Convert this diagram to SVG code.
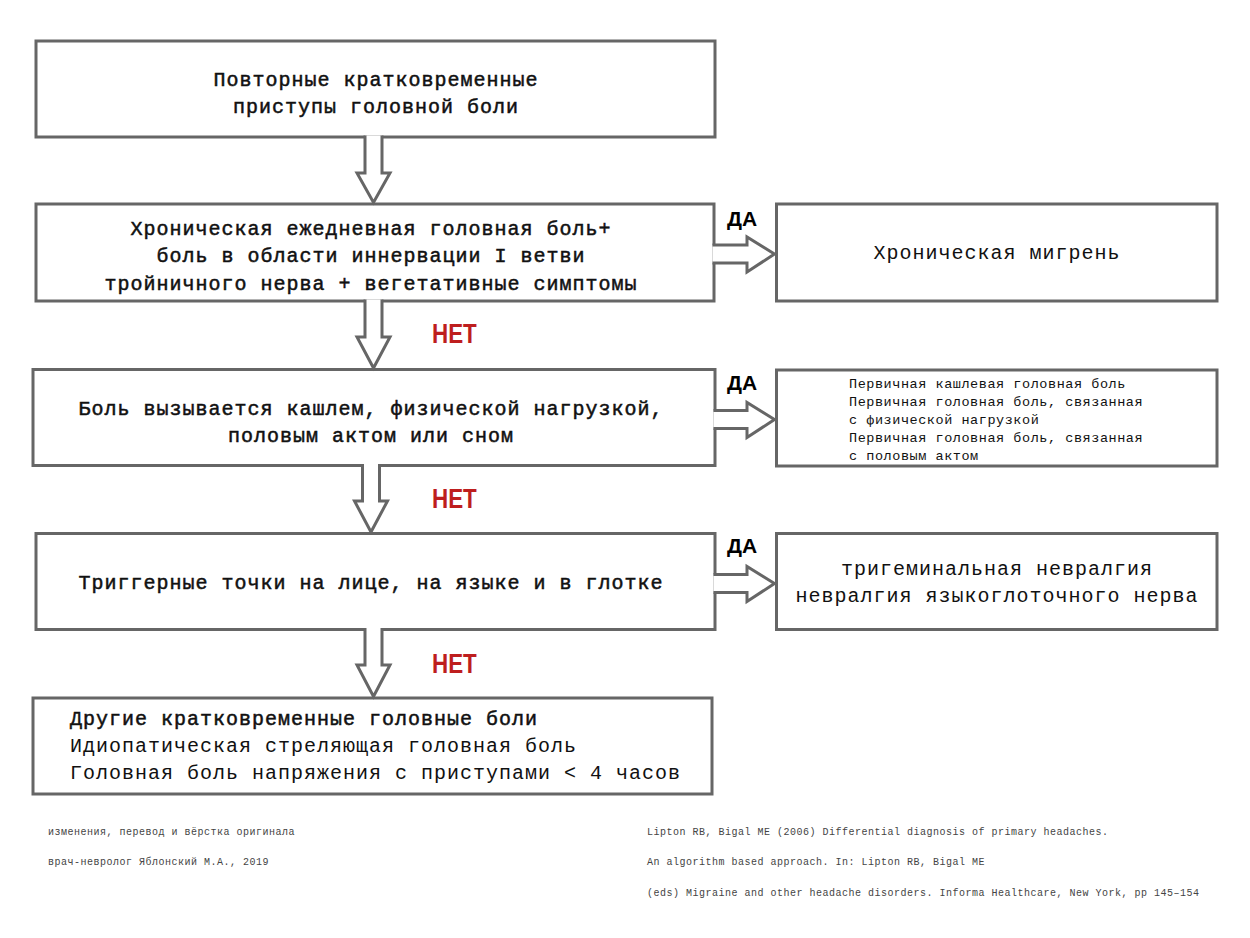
<svg xmlns="http://www.w3.org/2000/svg" width="1250" height="938" viewBox="0 0 1250 938">
<style>
.box{fill:#fff;stroke:#666;stroke-width:3}
.arr{fill:#fff;stroke:#666;stroke-width:3;stroke-linejoin:miter}
.t{font-family:"Liberation Mono","DejaVu Sans Mono",monospace;font-size:20px;letter-spacing:1px;fill:#111}
.m{stroke:#111;stroke-width:0.5}
.c{text-anchor:middle}
.s{font-family:"Liberation Mono","DejaVu Sans Mono",monospace;font-size:13.5px;letter-spacing:0.55px;fill:#111}
.f{font-family:"Liberation Mono","DejaVu Sans Mono",monospace;font-size:10px;letter-spacing:0.5px;fill:#444}
.da{font-family:"Liberation Sans","DejaVu Sans",sans-serif;font-size:21px;font-weight:bold;fill:#000}
.net{font-family:"Liberation Sans","DejaVu Sans",sans-serif;font-size:27px;font-weight:bold;fill:#be1e1e}
</style>
<rect width="1250" height="938" fill="#fff"/>

<g id="node1">
<rect class="box" x="36" y="41" width="679" height="96"/>
<text class="t m c" x="376" y="86">Повторные кратковременные</text>
<text class="t m c" x="376" y="113">приступы головной боли</text>
</g>

<g id="node2">
<rect class="box" x="36" y="204" width="678" height="97"/>
<text class="t m c" x="371" y="235">Хроническая ежедневная головная боль+</text>
<text class="t m c" x="371" y="262">боль в области иннервации I ветви</text>
<text class="t m c" x="371" y="290">тройничного нерва + вегетативные симптомы</text>
</g>

<g id="node2yes">
<rect class="box" x="776.5" y="204" width="440.5" height="97"/>
<text class="t c" x="997" y="259">Хроническая мигрень</text>
</g>

<g id="node3">
<rect class="box" x="33" y="369.5" width="682" height="96"/>
<text class="t m c" x="371" y="415">Боль вызывается кашлем, физической нагрузкой,</text>
<text class="t m c" x="371" y="442">половым актом или сном</text>
</g>

<g id="node3yes">
<rect class="box" x="776.5" y="370" width="440.5" height="96"/>
<text class="s" x="849" y="388">Первичная кашлевая головная боль</text>
<text class="s" x="849" y="406">Первичная головная боль, связанная</text>
<text class="s" x="849" y="424">с физической нагрузкой</text>
<text class="s" x="849" y="442">Первичная головная боль, связанная</text>
<text class="s" x="849" y="460">с половым актом</text>
</g>

<g id="node4">
<rect class="box" x="36" y="533.5" width="679" height="96"/>
<text class="t m c" x="371" y="589">Триггерные точки на лице, на языке и в глотке</text>
</g>

<g id="node4yes">
<rect class="box" x="776.5" y="533.5" width="440.5" height="96"/>
<text class="t c" x="997" y="575">тригеминальная невралгия</text>
<text class="t c" x="997" y="602">невралгия языкоглоточного нерва</text>
</g>

<g id="node5">
<rect class="box" x="33" y="698" width="679" height="96"/>
<text class="t m" x="70" y="725">Другие кратковременные головные боли</text>
<text class="t" x="70" y="752">Идиопатическая стреляющая головная боль</text>
<text class="t" x="70" y="779">Головная боль напряжения с приступами &lt; 4 часов</text>
</g>

<g id="connectors">
<path class="arr" d="M365,135.5 V173 H357 L373.5,202.5 L390,173 H382 V135.5"/>
<path class="arr" d="M365,299.5 V337 H357 L373.5,368 L390,337 H382 V299.5"/>
<path class="arr" d="M362.5,464 V501 H354.5 L371,532 L387.5,501 H379.5 V464"/>
<path class="arr" d="M365,628 V665 H357 L373.5,696.5 L390,665 H382 V628"/>

<path class="arr" d="M712.5,245 H747 V237 L774.5,254 L747,272 V263 H712.5"/>
<path class="arr" d="M713.5,410.5 H747 V402.5 L774.5,419.5 L747,437.5 V428.5 H713.5"/>
<path class="arr" d="M713.5,574.5 H747 V566.5 L774.5,583.5 L747,601.5 V592.5 H713.5"/>

<text class="da" x="727" y="226">ДА</text>
<text class="da" x="727" y="390">ДА</text>
<text class="da" x="727" y="553">ДА</text>
<text class="net" transform="translate(432,343) scale(0.83,1)">НЕТ</text>
<text class="net" transform="translate(432,508) scale(0.83,1)">НЕТ</text>
<text class="net" transform="translate(432,673) scale(0.83,1)">НЕТ</text>
</g>

<g id="footer">
<text class="f" x="48" y="835">изменения, перевод и вёрстка оригинала</text>
<text class="f" x="48" y="865">врач-невролог Яблонский М.А., 2019</text>
<text class="f" x="647" y="835">Lipton RB, Bigal ME (2006) Differential diagnosis of primary headaches.</text>
<text class="f" x="647" y="865">An algorithm based approach. In: Lipton RB, Bigal ME</text>
<text class="f" x="647" y="896">(eds) Migraine and other headache disorders. Informa Healthcare, New York, pp 145–154</text>
</g>
</svg>
